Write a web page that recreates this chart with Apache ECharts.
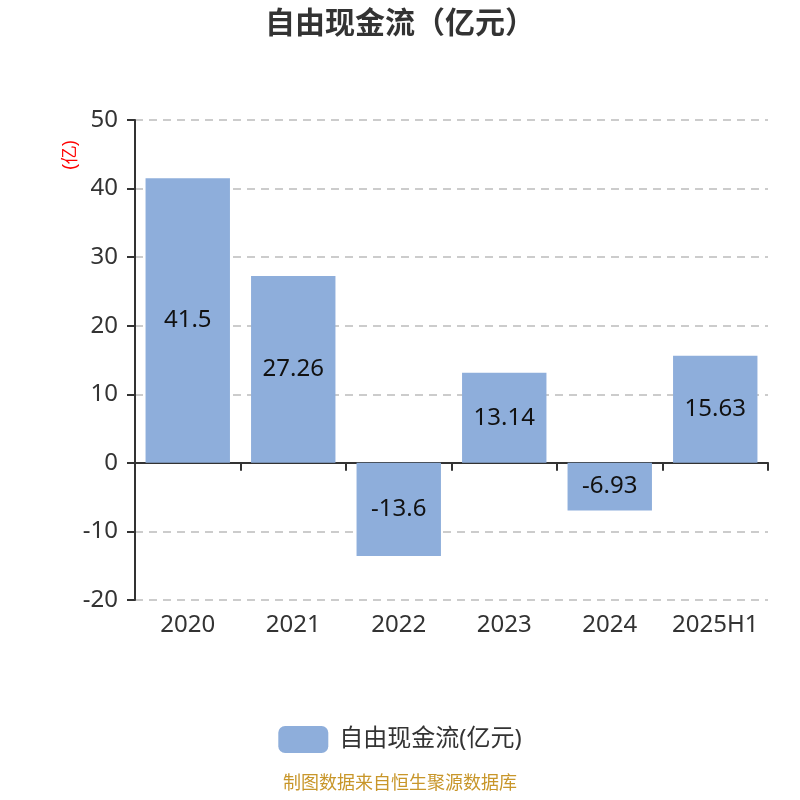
<!DOCTYPE html>
<html><head><meta charset="utf-8">
<script src="https://cdn.jsdelivr.net/npm/echarts@6/dist/echarts.min.js"></script>
<style>html,body{margin:0;padding:0;background:#fff}#c{width:800px;height:800px}</style>
</head><body><div id="c"></div>
<script>
const categories = ['2020','2021','2022','2023','2024','2025H1'];
const values = [41.5, 27.26, -13.6, 13.14, -6.93, 15.63];
const seriesName = '自由现金流(亿元)';
const titleText = '自由现金流（亿元）';
const unitText = '(亿)';
const sourceText = '制图数据来自恒生聚源数据库';

const chart = echarts.init(document.getElementById('c'));
const font = '"Noto Sans", "Noto Sans CJK SC", sans-serif';
chart.setOption({
  animation: false,
  textStyle: {fontFamily: font},
  title: [
    {text: titleText, left: 'center', top: 4, textStyle: {fontSize: 30, fontWeight: 'bold', color: '#333', fontFamily: font}},
    {text: sourceText, left: 'center', bottom: 2, textStyle: {fontSize: 18, fontWeight: 'normal', color: '#c8962a', fontFamily: font}}
  ],
  grid: {left: 135, right: 32, top: 120, bottom: 200},
  legend: {
    data: [seriesName], top: 721, left: 'center',
    itemWidth: 50, itemHeight: 27, itemGap: 12,
    itemStyle: {borderRadius: 6},
    textStyle: {fontSize: 24, color: '#333', padding: [0, 0, 0, 6]}
  },
  graphic: [{
    type: 'text', left: 61, top: 140, rotation: Math.PI/2,
    style: {text: unitText, fill: '#f00', fontSize: 18, font: '18px ' + font}
  }],
  xAxis: [
    {type: 'category', data: categories, position: 'bottom',
     axisLine: {onZero: true, lineStyle: {color: '#333', width: 2}},
     axisTick: {show: true, length: 8, lineStyle: {color: '#333', width: 2}},
     axisLabel: {show: false}},
    {type: 'category', data: categories, position: 'bottom',
     axisLine: {show: false, onZero: false}, axisTick: {show: false},
     axisLabel: {fontSize: 24, color: '#333', margin: 13, interval: 0}}
  ],
  yAxis: {
    type: 'value', min: -20, max: 50, interval: 10,
    axisLine: {show: true, lineStyle: {color: '#333', width: 2}},
    axisTick: {show: true, length: 8, lineStyle: {color: '#333', width: 2}},
    axisLabel: {fontSize: 24, color: '#333', margin: 17},
    splitLine: {lineStyle: {type: [8, 6], color: '#ccc', width: 2}}
  },
  series: [{
    name: seriesName, type: 'bar', data: values, xAxisIndex: 0,
    barWidth: '80%',
    itemStyle: {color: '#8eaedb'},
    label: {show: true, position: 'inside', fontSize: 24, color: '#111'}
  }]
});
</script></body></html>
